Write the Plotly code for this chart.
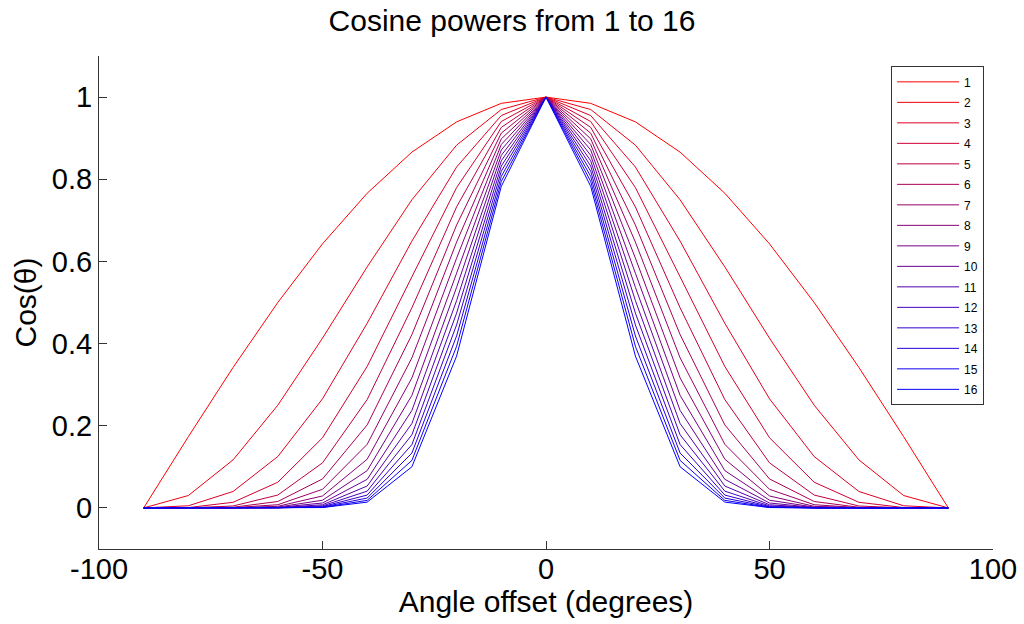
import plotly.graph_objects as go

angles = [-90, -80, -70, -60, -50, -40, -30, -20, -10, 0, 10, 20, 30, 40, 50, 60, 70, 80, 90]

p1 = [0, 0.1736, 0.3420, 0.5, 0.6428, 0.7660, 0.8660, 0.9397, 0.9848, 1, 0.9848, 0.9397, 0.8660, 0.7660, 0.6428, 0.5, 0.3420, 0.1736, 0]
p2 = [0, 0.0302, 0.1170, 0.25, 0.4132, 0.5868, 0.75, 0.8830, 0.9698, 1, 0.9698, 0.8830, 0.75, 0.5868, 0.4132, 0.25, 0.1170, 0.0302, 0]
p3 = [0, 0.0052, 0.0400, 0.125, 0.2656, 0.4495, 0.6495, 0.8298, 0.9551, 1, 0.9551, 0.8298, 0.6495, 0.4495, 0.2656, 0.125, 0.0400, 0.0052, 0]
p4 = [0, 0.0009, 0.0137, 0.0625, 0.1707, 0.3444, 0.5625, 0.7797, 0.9406, 1, 0.9406, 0.7797, 0.5625, 0.3444, 0.1707, 0.0625, 0.0137, 0.0009, 0]
p5 = [0, 0.0002, 0.0047, 0.0313, 0.1097, 0.2638, 0.4871, 0.7327, 0.9263, 1, 0.9263, 0.7327, 0.4871, 0.2638, 0.1097, 0.0313, 0.0047, 0.0002, 0]
p6 = [0, 0.0000, 0.0016, 0.0156, 0.0705, 0.2021, 0.4219, 0.6885, 0.9123, 1, 0.9123, 0.6885, 0.4219, 0.2021, 0.0705, 0.0156, 0.0016, 0.0000, 0]
p7 = [0, 0.0000, 0.0006, 0.0078, 0.0453, 0.1548, 0.3654, 0.6470, 0.8984, 1, 0.8984, 0.6470, 0.3654, 0.1548, 0.0453, 0.0078, 0.0006, 0.0000, 0]
p8 = [0, 0.0000, 0.0002, 0.0039, 0.0291, 0.1186, 0.3164, 0.6080, 0.8847, 1, 0.8847, 0.6080, 0.3164, 0.1186, 0.0291, 0.0039, 0.0002, 0.0000, 0]
p9 = [0, 0.0000, 0.0001, 0.0020, 0.0187, 0.0908, 0.2740, 0.5713, 0.8713, 1, 0.8713, 0.5713, 0.2740, 0.0908, 0.0187, 0.0020, 0.0001, 0.0000, 0]
p10 = [0, 0.0000, 0.0000, 0.0010, 0.0120, 0.0696, 0.2373, 0.5369, 0.8581, 1, 0.8581, 0.5369, 0.2373, 0.0696, 0.0120, 0.0010, 0.0000, 0.0000, 0]
p11 = [0, 0.0000, 0.0000, 0.0005, 0.0077, 0.0533, 0.2055, 0.5045, 0.8450, 1, 0.8450, 0.5045, 0.2055, 0.0533, 0.0077, 0.0005, 0.0000, 0.0000, 0]
p12 = [0, 0.0000, 0.0000, 0.0002, 0.0050, 0.0408, 0.1780, 0.4741, 0.8322, 1, 0.8322, 0.4741, 0.1780, 0.0408, 0.0050, 0.0002, 0.0000, 0.0000, 0]
p13 = [0, 0.0000, 0.0000, 0.0001, 0.0032, 0.0313, 0.1541, 0.4455, 0.8196, 1, 0.8196, 0.4455, 0.1541, 0.0313, 0.0032, 0.0001, 0.0000, 0.0000, 0]
p14 = [0, 0.0000, 0.0000, 0.0001, 0.0021, 0.0240, 0.1335, 0.4186, 0.8071, 1, 0.8071, 0.4186, 0.1335, 0.0240, 0.0021, 0.0001, 0.0000, 0.0000, 0]
p15 = [0, 0.0000, 0.0000, 0.0000, 0.0013, 0.0184, 0.1156, 0.3934, 0.7948, 1, 0.7948, 0.3934, 0.1156, 0.0184, 0.0013, 0.0000, 0.0000, 0.0000, 0]
p16 = [0, 0.0000, 0.0000, 0.0000, 0.0009, 0.0141, 0.1001, 0.3696, 0.7828, 1, 0.7828, 0.3696, 0.1001, 0.0141, 0.0009, 0.0000, 0.0000, 0.0000, 0]

series = [p1, p2, p3, p4, p5, p6, p7, p8, p9, p10, p11, p12, p13, p14, p15, p16]
names = [str(i) for i in range(1, 17)]

x_ticks = [-100, -50, 0, 50, 100]
y_ticks = [0, 0.2, 0.4, 0.6, 0.8, 1]
y_tick_labels = ["0", "0.2", "0.4", "0.6", "0.8", "1"]

fig = go.Figure()
n = len(series)
for i, (vals, nm) in enumerate(zip(series, names)):
    t = i / (n - 1)
    color = f"rgb({round(255 * (1 - t))},0,{round(255 * t)})"
    fig.add_trace(go.Scatter(x=angles, y=vals, mode="lines", name=nm, legendgroup=nm,
                             line=dict(color=color, width=1)))

FONT = "Liberation Sans, Arial, sans-serif"
tick_font = dict(family=FONT, size=29, color="black")
title_font = dict(family=FONT, size=30, color="black")
fig.update_layout(
    width=1024, height=624,
    paper_bgcolor="white", plot_bgcolor="white",
    margin=dict(l=99, r=31, t=56, b=75),
    title=dict(text="Cosine powers from 1 to 16", x=0.5, xanchor="center",
               y=0.967, yanchor="middle", font=title_font),
    xaxis=dict(range=[-100, 100], tickvals=x_ticks, ticktext=[str(v) for v in x_ticks],
               ticks="inside", ticklen=8, tickcolor="#333333", automargin=False,
               ticklabelstandoff=-6,
               showline=True, linecolor="#333333", linewidth=1, showgrid=False, zeroline=False,
               tickfont=tick_font, mirror=False,
               title=dict(text="Angle offset (degrees)", font=title_font, standoff=0)),
    yaxis=dict(range=[-0.1, 1.1], tickvals=y_ticks, ticktext=y_tick_labels,
               ticks="inside", ticklen=8, tickcolor="#333333", automargin=False,
               showline=True, linecolor="#333333", linewidth=1, showgrid=False, zeroline=False,
               tickfont=tick_font,
               title=dict(text="Cos(θ)", font=title_font, standoff=6)),
    showlegend=True,
    legend=dict(x=0.886, y=0.979, xanchor="left", yanchor="top",
                bgcolor="white", bordercolor="#333333", borderwidth=1,
                font=dict(family=FONT, size=12, color="black"),
                traceorder="grouped", tracegroupgap=1.5, itemwidth=62),
)

fig.write_html("out.html")
